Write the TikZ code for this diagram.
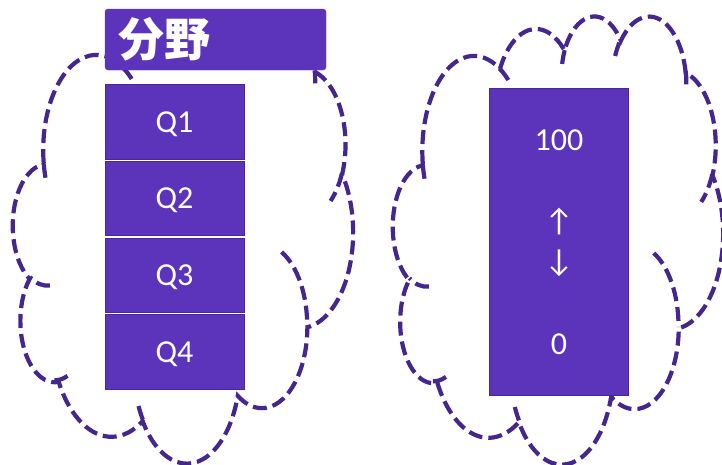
\documentclass[tikz,border=0pt]{standalone}
\usepackage{fontspec}
\setmainfont{Carlito}
\newfontfamily\cjkfont{Noto Sans CJK JP}
\definecolor{boxfill}{RGB}{92,52,187}
\definecolor{boxline}{RGB}{72,40,150}
\definecolor{cloudc}{RGB}{68,38,140}
% visual (OOXML) angle -> parametric angle of an ellipse
\def\cvis#1#2#3{(#1)+mod(atan2((#2)*sin(#1),(#3)*cos(#1))-(#1)+900,360)-180}
\newcommand\carc[4]{arc[start angle={\cvis{#3}{#1}{#2}}, end angle={\cvis{(#3)+(#4)}{#1}{#2}}, x radius=#1, y radius=#2]}
\newcommand\cloudpath{%
  \draw[cloudstroke] (3.900,14.370)
    \carc{6.753}{9.190}{-190.4875}{123.7805}
    \carc{5.333}{7.267}{-144.1024}{89.9452}
    \carc{4.365}{5.945}{-145.8079}{99.7230}
    \carc{4.857}{6.595}{-130.9861}{117.2417}
    \carc{5.333}{7.273}{-78.7089}{109.0269}
    \carc{6.775}{9.220}{-46.2673}{130.2690}
    \carc{5.785}{7.867}{0.6250}{114.0333}
    \carc{6.752}{9.215}{22.4516}{115.1726}
    \carc{7.720}{10.543}{66.2426}{75.7110}
    \carc{4.360}{5.918}{-274.9421}{146.7356}
    \carc{4.345}{5.945}{-246.8285}{152.5189}
    -- cycle;
  \draw[cloudstroke]
    (4.693,26.177) \carc{4.345}{5.945}{86.7420}{26.4295}
    (6.928,34.899) \carc{4.360}{5.918}{73.6105}{19.1381}
    (16.478,39.090) \carc{6.752}{9.215}{137.6242}{14.0811}
    (28.827,34.751) \carc{6.752}{9.215}{6.4533}{15.9984}
    (34.129,22.954) \carc{5.785}{7.867}{-70.2924}{70.9174}
    (41.798,15.354) \carc{5.333}{7.273}{30.3180}{27.7515}
    (38.324,5.426) \carc{4.857}{6.595}{-13.7443}{14.8589}
    (29.078,3.952) \carc{4.857}{6.595}{-149.1815}{18.1954}
    (22.141,4.720) \carc{4.365}{5.945}{-163.4943}{17.6864}
    (14.000,5.192) \carc{6.753}{9.190}{-66.7070}{12.3194}
    (4.127,15.789) \carc{6.753}{9.190}{157.6544}{11.8582};
}
\tikzset{
  cloudstroke/.style={draw=cloudc, line width=4.2pt, dash pattern=on 14pt off 6pt},
  qbox/.style={draw=boxline, line width=1pt, fill=boxfill, text=white,
    minimum width=139pt, minimum height=74.5pt, inner sep=0pt, text depth=0pt,
    font=\fontsize{32}{38}\selectfont},
  headbox/.style={fill=boxfill, draw=boxfill, rounded corners=3pt, text=white,
    minimum height=61pt, text width=195pt, inner xsep=13pt, align=left,
    font=\cjkfont\bfseries\fontsize{46}{50}\selectfont},
  valtext/.style={text=white, inner sep=0pt, font=\fontsize{32}{38}\selectfont},
}
\begin{document}
\begin{tikzpicture}[x=1pt, y=-1pt]
\useasboundingbox (0,0) rectangle (722,464);
\clip (0,0) rectangle (722,464);
% clouds
\begin{scope}[shift={(13,14)}, x=7.8704pt, y=-10.3704pt]
  \cloudpath
\end{scope}
\begin{scope}[shift={(393,15)}, x=7.6389pt, y=-10.3704pt]
  \cloudpath
\end{scope}
% left group
\node[headbox] (head) at (215.5,39.5) {分野};
\node[qbox] (q1) at (174.5,122) {Q1};
\node[qbox] (q2) at (174.5,198.5) {Q2};
\node[qbox] (q3) at (174.5,275.5) {Q3};
\node[qbox] (q4) at (174.5,352) {Q4};
% right group
\node[draw=boxline, line width=1pt, fill=boxfill, minimum width=139pt, minimum height=307pt, inner sep=0pt] (scale) at (558.5,241.5) {};
\node[valtext] (v100) at (559,140) {100};
\node[valtext] (vup) at (559,222) {↑};
\node[valtext] (vdown) at (559,263) {↓};
\node[valtext] (v0) at (559,344) {0};
\end{tikzpicture}
\end{document}
